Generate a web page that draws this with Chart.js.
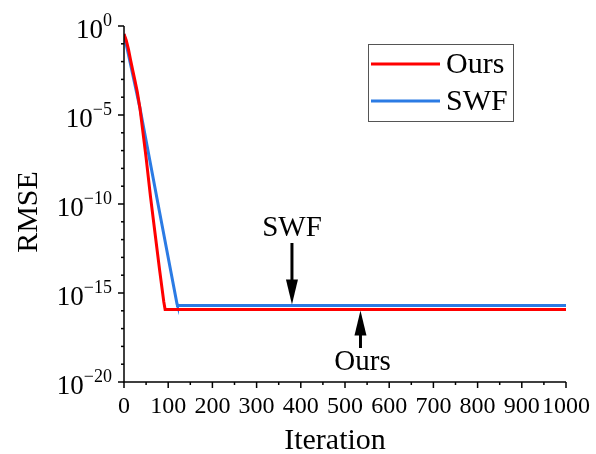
<!DOCTYPE html>
<html>
<head>
<meta charset="utf-8">
<script src="https://cdn.jsdelivr.net/npm/chart.js@4.4.3/dist/chart.umd.min.js"></script>
<style>
  body { margin: 0; background: #fff; }
  #wrap { width: 596px; height: 454px; }
</style>
</head>
<body>
<div id="wrap"><canvas id="chart" width="596" height="454"></canvas></div>
<script>
// Values
const oursIter = [0, 5, 10, 15, 20, 25, 30, 36, 40, 50, 60, 70, 80, 90, 93, 1000];
const oursRmse = [3.5e-1, 1.6e-1, 5e-2, 1.2e-2, 3e-3, 8e-4, 2e-4, 2.5e-5, 4e-6, 4e-8, 2.5e-10, 2.5e-12, 2.5e-14, 3.2e-16, 1.2e-16, 1.2e-16];

const swfIter = [0, 10, 36, 80, 120, 121, 1000];
const swfRmse = [3.5e-1, 2.5e-2, 2.5e-5, 4e-11, 2.4e-16, 2e-16, 2e-16];

const xTicks = [0, 100, 200, 300, 400, 500, 600, 700, 800, 900, 1000];
const yTickExps = [0, -5, -10, -15, -20];

const FONT = '"Liberation Serif", "Times New Roman", serif';
const RED = '#ff0000';
const BLUE = '#2b7be4';

function toPoints(xs, ys) {
    return xs.map((x, i) => ({x: x, y: ys[i]}));
}

// Axes, labels, legend and arrows drawn by hand (superscripts, minor ticks)
const decorPlugin = {
    id: 'decor',
    afterDraw(chart) {
        const ctx = chart.ctx;
        const xs = chart.scales.x;
        const ys = chart.scales.y;
        const area = chart.chartArea;
        ctx.save();
        ctx.strokeStyle = '#000';
        ctx.fillStyle = '#000';
        ctx.lineWidth = 1.5;

        // axis lines
        ctx.beginPath();
        ctx.moveTo(area.left, area.top);
        ctx.lineTo(area.left, area.bottom);
        ctx.lineTo(area.right, area.bottom);
        ctx.stroke();

        // x ticks
        for (let v = 0; v <= 1000; v += 50) {
            const px = xs.getPixelForValue(v);
            const len = v % 100 === 0 ? 6 : 3;
            ctx.beginPath();
            ctx.moveTo(px, area.bottom);
            ctx.lineTo(px, area.bottom + len);
            ctx.stroke();
        }
        // y ticks (every decade)
        for (let e = -20; e <= 0; e++) {
            const py = ys.getPixelForValue(Math.pow(10, e));
            const len = e % 5 === 0 ? 6 : 3;
            ctx.beginPath();
            ctx.moveTo(area.left, py);
            ctx.lineTo(area.left - len, py);
            ctx.stroke();
        }

        // x tick labels
        ctx.font = '24px ' + FONT;
        ctx.textAlign = 'center';
        ctx.textBaseline = 'alphabetic';
        xTicks.forEach(v => {
            ctx.fillText(String(v), xs.getPixelForValue(v), area.bottom + 31);
        });

        // y tick labels with superscripts
        ctx.textAlign = 'left';
        yTickExps.forEach(e => {
            const py = ys.getPixelForValue(Math.pow(10, e));
            const sup = e === 0 ? '0' : '\u2212' + String(-e);
            ctx.font = '18px ' + FONT;
            const w2 = ctx.measureText(sup).width;
            ctx.font = '27px ' + FONT;
            const w1 = ctx.measureText('10').width;
            const right = area.left - 12;
            ctx.fillText('10', right - w2 - w1, py + 12);
            ctx.font = '18px ' + FONT;
            ctx.fillText(sup, right - w2, py);
        });

        // axis titles
        ctx.font = '30px ' + FONT;
        ctx.textAlign = 'center';
        ctx.fillText('Iteration', 335, 449);
        ctx.save();
        ctx.translate(37, 212);
        ctx.rotate(-Math.PI / 2);
        ctx.fillText('RMSE', 0, 0);
        ctx.restore();

        // legend
        ctx.lineWidth = 1;
        ctx.strokeStyle = '#555';
        ctx.strokeRect(368.5, 44.5, 145, 77);
        const items = [[RED, 'Ours', 64], [BLUE, 'SWF', 101]];
        ctx.font = '30px ' + FONT;
        ctx.textAlign = 'left';
        ctx.textBaseline = 'middle';
        items.forEach(([col, label, y]) => {
            ctx.strokeStyle = col;
            ctx.lineWidth = 3;
            ctx.beginPath();
            ctx.moveTo(371, y);
            ctx.lineTo(440, y);
            ctx.stroke();
            ctx.fillStyle = '#000';
            ctx.fillText(label, 446, y + 1);
        });

        // annotation arrows
        ctx.font = '29px ' + FONT;
        ctx.textBaseline = 'alphabetic';
        ctx.textAlign = 'center';
        ctx.strokeStyle = '#000';
        ctx.fillStyle = '#000';
        ctx.lineWidth = 3;
        // SWF: arrow pointing down onto the blue plateau
        const sx = xs.getPixelForValue(380);
        const sTip = ys.getPixelForValue(swfRmse[swfRmse.length - 1]) - 1;
        ctx.fillText('SWF', sx, 236);
        ctx.beginPath();
        ctx.moveTo(sx, 243);
        ctx.lineTo(sx, sTip - 20);
        ctx.stroke();
        ctx.beginPath();
        ctx.moveTo(sx - 6, sTip - 25);
        ctx.lineTo(sx + 6, sTip - 25);
        ctx.lineTo(sx, sTip);
        ctx.closePath();
        ctx.fill();
        // Ours: arrow pointing up onto the red plateau
        const ox = xs.getPixelForValue(535);
        const oTip = ys.getPixelForValue(oursRmse[oursRmse.length - 1]) + 1;
        ctx.beginPath();
        ctx.moveTo(ox, 348);
        ctx.lineTo(ox, oTip + 20);
        ctx.stroke();
        ctx.beginPath();
        ctx.moveTo(ox - 6, oTip + 25);
        ctx.lineTo(ox + 6, oTip + 25);
        ctx.lineTo(ox, oTip);
        ctx.closePath();
        ctx.fill();
        ctx.fillText('Ours', ox + 2, 370);

        ctx.restore();
    }
};

new Chart(document.getElementById('chart'), {
    type: 'line',
    data: {
        datasets: [
            {
                label: 'Ours',
                data: toPoints(oursIter, oursRmse),
                borderColor: RED,
                borderWidth: 3,
                pointRadius: 0,
                tension: 0,
                fill: false
            },
            {
                label: 'SWF',
                data: toPoints(swfIter, swfRmse),
                borderColor: BLUE,
                borderWidth: 3,
                pointRadius: 0,
                tension: 0,
                fill: false
            }
        ]
    },
    options: {
        responsive: false,
        animation: false,
        layout: {padding: {left: 124, right: 30, top: 26, bottom: 72}},
        plugins: {legend: {display: false}, tooltip: {enabled: false}},
        scales: {
            x: {type: 'linear', min: 0, max: 1000, display: false},
            y: {type: 'logarithmic', min: 1e-20, max: 1, display: false}
        }
    },
    plugins: [decorPlugin]
});
</script>
</body>
</html>
